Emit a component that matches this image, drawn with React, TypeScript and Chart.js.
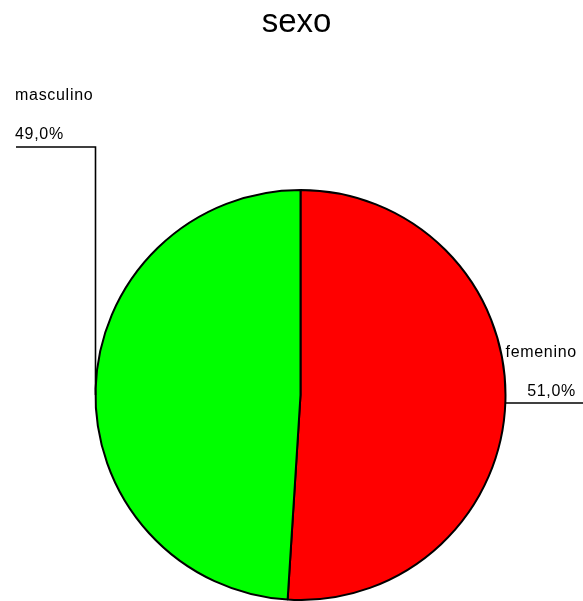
import React, { useEffect, useRef } from "react";
import { Chart, registerables } from "chart.js";

Chart.register(...registerables);

const TITLE = "sexo";
const categories = ["femenino", "masculino"];
const values = [51.0, 49.0];
const percentLabels = ["51,0%", "49,0%"];
const colors = ["#FF0000", "#00FF00"];

const FONT = "'Liberation Sans', Arial, sans-serif";

const labelsPlugin = {
  id: "spssLabels",
  afterDraw(chart: any) {
    const ctx = chart.ctx;
    const meta = chart.getDatasetMeta(0);
    const arc = meta.data[0];
    if (!arc) return;
    const cx = arc.x;
    const cy = arc.y;
    const r = arc.outerRadius;
    const W = chart.width;
    ctx.save();
    // title
    ctx.fillStyle = "#000";
    ctx.font = `33px ${FONT}`;
    ctx.textAlign = "center";
    ctx.textBaseline = "alphabetic";
    ctx.fillText(TITLE, cx - 4, 32);

    ctx.strokeStyle = "#000";
    ctx.lineWidth = 1.6;

    // femenino (right)
    const ry = cy + 8;
    const rx = cx + r;
    ctx.beginPath();
    ctx.moveTo(rx, ry);
    ctx.lineTo(W, ry);
    ctx.stroke();
    ctx.font = `16px ${FONT}`;
    (ctx as any).letterSpacing = "0.7px";
    ctx.textAlign = "left";
    ctx.fillText(categories[0], rx, ry - 46);
    ctx.textAlign = "right";
    ctx.fillText(percentLabels[0], W - 7, ry - 7);

    // masculino (left)
    const lx = cx - r;
    const topY = 147;
    ctx.beginPath();
    ctx.moveTo(lx, cy);
    ctx.lineTo(lx, topY);
    ctx.lineTo(16, topY);
    ctx.stroke();
    ctx.textAlign = "left";
    ctx.fillText(categories[1], 15, topY - 47);
    ctx.fillText(percentLabels[1], 15, topY - 8);
    ctx.restore();
  },
};

export default function App() {
  const ref = useRef<HTMLCanvasElement | null>(null);
  useEffect(() => {
    if (!ref.current) return;
    const chart = new Chart(ref.current, {
      type: "pie",
      data: {
        labels: categories,
        datasets: [
          {
            data: values,
            backgroundColor: colors,
            borderColor: "#000000",
            borderWidth: 2,
          },
        ],
      },
      options: {
        animation: false,
        responsive: true,
        maintainAspectRatio: false,
        layout: { padding: { left: 94, right: 76, top: 189, bottom: 0 } },
        plugins: {
          legend: { display: false },
          title: { display: false },
          tooltip: { enabled: false },
        },
      },
      plugins: [labelsPlugin],
    });
    return () => chart.destroy();
  }, []);
  return (
    <div
      style={{
        position: "fixed",
        left: 0,
        top: 0,
        width: 583,
        height: 601,
        background: "#fff",
      }}
    >
      <canvas ref={ref} />
    </div>
  );
}
